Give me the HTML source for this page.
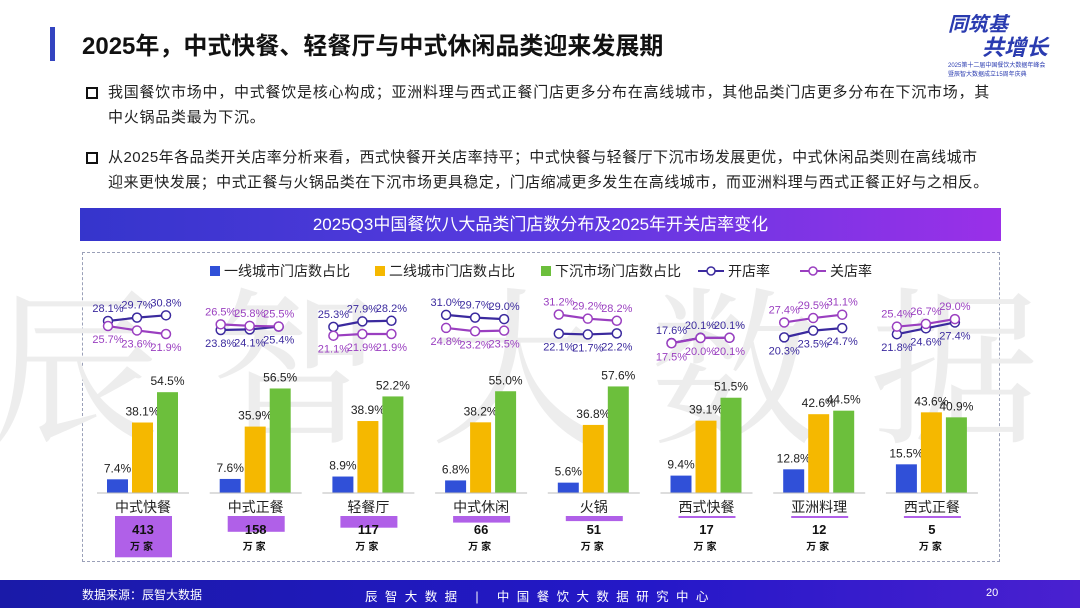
<!DOCTYPE html>
<html><head><meta charset="utf-8">
<style>
body{margin:0;width:1080px;height:608px;overflow:hidden;background:#fff;font-family:"Liberation Sans","Noto Sans CJK SC",sans-serif;position:relative}
.abs{position:absolute}
.bul{position:absolute;left:108px;font-size:15px;line-height:25px;color:#222;letter-spacing:0.75px;white-space:nowrap}
.sq{position:absolute;left:86px;width:8px;height:8px;border:2px solid #111}
</style></head><body>
<div class="abs" style="left:50px;top:27px;width:5px;height:34px;background:#3344c0"></div>
<div class="abs" style="left:82px;top:26px;font-size:24px;font-weight:bold;color:#111">2025年，中式快餐、轻餐厅与中式休闲品类迎来发展期</div>
<div class="abs" style="left:940px;top:8px;width:130px;height:66px;color:#2a3bb0;font-style:italic;font-weight:bold">
<div style="position:absolute;left:8px;top:0;font-size:20px">同筑基</div>
<div style="position:absolute;left:42px;top:22px;font-size:22px">共增长</div>
<div style="position:absolute;left:8px;top:52px;font-size:6px;font-style:normal;font-weight:normal;white-space:nowrap">2025第十二届中国餐饮大数据年峰会<br>暨辰智大数据成立15周年庆典</div></div>
<div class="sq" style="top:87px"></div>
<div class="bul" style="top:80px">我国餐饮市场中，中式餐饮是核心构成；亚洲料理与西式正餐门店更多分布在高线城市，其他品类门店更多分布在下沉市场，其<br>中火锅品类最为下沉。</div>
<div class="sq" style="top:152px"></div>
<div class="bul" style="top:145px;letter-spacing:0.45px">从2025年各品类开关店率分析来看，西式快餐开关店率持平；中式快餐与轻餐厅下沉市场发展更优，中式休闲品类则在高线城市<br>迎来更快发展；中式正餐与火锅品类在下沉市场更具稳定，门店缩减更多发生在高线城市，而亚洲料理与西式正餐正好与之相反。</div>
<div class="abs" style="left:80px;top:208px;width:921px;height:33px;background:linear-gradient(90deg,#3535cc,#5a3ae0 50%,#9a30e8);color:#fff;font-size:17px;text-align:center;line-height:33px">2025Q3中国餐饮八大品类门店数分布及2025年开关店率变化</div>
<div class="abs" style="left:82px;top:252px;width:916px;height:308px;border:1.5px dashed #9aa0b8"></div>
<svg id="chart" class="abs" style="left:0;top:0" width="1080" height="608"></svg>
<div class="abs" style="left:0;top:580px;width:1080px;height:28px;background:linear-gradient(90deg,#1a1aa8,#2418c8 60%,#4a20d0);color:#fff">
<div class="abs" style="left:82px;top:6px;font-size:12px">数据来源：辰智大数据</div>
<div class="abs" style="left:365px;top:6px;font-size:12.5px;letter-spacing:7.4px">辰智大数据 | 中国餐饮大数据研究中心</div>
<div class="abs" style="left:986px;top:7px;font-size:11px">20</div></div>
<script>
const categories=["中式快餐","中式正餐","轻餐厅","中式休闲","火锅","西式快餐","亚洲料理","西式正餐"];
const tier1=[7.4,7.6,8.9,6.8,5.6,9.4,12.8,15.5];
const tier2=[38.1,35.9,38.9,38.2,36.8,39.1,42.6,43.6];
const lower=[54.5,56.5,52.2,55.0,57.6,51.5,44.5,40.9];
const openRate=[[28.1,29.7,30.8],[23.8,24.1,25.4],[25.3,27.9,28.2],[31.0,29.7,29.0],[22.1,21.7,22.2],[17.6,20.1,20.1],[20.3,23.5,24.7],[21.8,24.6,27.4]];
const closeRate=[[25.7,23.6,21.9],[26.5,25.8,25.5],[21.1,21.9,21.9],[24.8,23.2,23.5],[31.2,29.2,28.2],[17.5,20.0,20.1],[27.4,29.5,31.1],[25.4,26.7,29.0]];
const storeCounts=[413,158,117,66,51,17,12,5];
const svg=document.getElementById('chart');
const NS='http://www.w3.org/2000/svg';
function mk(t,a,txt){const e=document.createElementNS(NS,t);for(const k in a)e.setAttribute(k,a[k]);if(txt!==undefined)e.textContent=txt;svg.appendChild(e);return e;}
const wm=mk('text',{x:540,y:430,'font-size':170,fill:'#ededed','text-anchor':'middle','letter-spacing':50,'font-family':'"Noto Serif CJK SC",serif'},'辰智大数据');


const gx=i=>143+i*112.7;
const baseY=493;
const yBar=v=>baseY-v*1.85;
const yRate=v=>380-v*2.1;
const colors=['#3050d8','#f5b800','#6cbf3c'];
const series=[tier1,tier2,lower];
const legItems=[['一线城市门店数占比',210],['二线城市门店数占比',375],['下沉市场门店数占比',541]];
legItems.forEach((l,k)=>{
 const r=mk('rect',{x:l[1],y:266,width:10,height:10,fill:colors[k]});
 
 
 const t=mk('text',{x:l[1]+14,y:276,'font-size':14,fill:'#222'},l[0]);
 
 
});
[['开店率',698,'#3b2a9e'],['关店率',800,'#9a3fc0']].forEach((l,k)=>{
 mk('line',{x1:l[1],y1:271,x2:l[1]+26,y2:271,stroke:l[2],'stroke-width':2});
 const c=mk('circle',{cx:l[1]+13,cy:271,r:4,fill:'#fff',stroke:l[2],'stroke-width':1.5});
 
 
 const t=mk('text',{x:l[1]+30,y:276,'font-size':14,fill:'#222'},l[0]);
 
 
});
categories.forEach((c,i)=>{
 const cx=gx(i);
 series.forEach((s,k)=>{
  const x=cx-36+k*25;
  const b=mk('rect',{x:x,y:yBar(s[i]),width:21,height:s[i]*1.85,fill:colors[k]});
  
  
  const t=mk('text',{x:x+10.5,y:yBar(s[i])-7,'font-size':12,'text-anchor':'middle',fill:'#222'},s[i].toFixed(1)+'%');
  
  
 });
 mk('line',{x1:cx-46,y1:baseY,x2:cx+46,y2:baseY,stroke:'#bbb','stroke-width':1});
 const cl=mk('text',{x:cx,y:512,'font-size':14,'text-anchor':'middle',fill:'#222'},c);
 
 
 const h=Math.max(storeCounts[i]/10,2);
 const bx=mk('rect',{x:cx-28,y:516,width:57,height:h,fill:'#b060e8'});
 
 
 const n=mk('text',{x:cx,y:534,'font-size':13,'font-weight':'bold','text-anchor':'middle',fill:'#111'},storeCounts[i]);
 
 
 const u=mk('text',{x:cx,y:550,'font-size':10,'font-weight':'bold','text-anchor':'middle',fill:'#111','letter-spacing':3},'万家');
 
 
 const px=j=>cx-35+j*29;
 const openAvg=openRate[i].reduce((a,b)=>a+b)/3, closeAvg=closeRate[i].reduce((a,b)=>a+b)/3;
 [[openRate[i],'#3b2a9e',openAvg>=closeAvg,'open'],[closeRate[i],'#9a3fc0',closeAvg>openAvg,'close']].forEach(([arr,col,up,nm])=>{
  const pl=mk('polyline',{points:arr.map((v,j)=>px(j)+','+yRate(v)).join(' '),fill:'none',stroke:col,'stroke-width':2.2});
  
  
  arr.forEach((v,j)=>{
   const c=mk('circle',{cx:px(j),cy:yRate(v),r:4.5,fill:'#fff',stroke:col,'stroke-width':1.5});
   
   
   const t=mk('text',{x:px(j),y:up?yRate(v)-9:yRate(v)+17,'font-size':11,'text-anchor':'middle',fill:col},v.toFixed(1)+'%');
   
   
  });
 });
});
</script>
</body></html>
